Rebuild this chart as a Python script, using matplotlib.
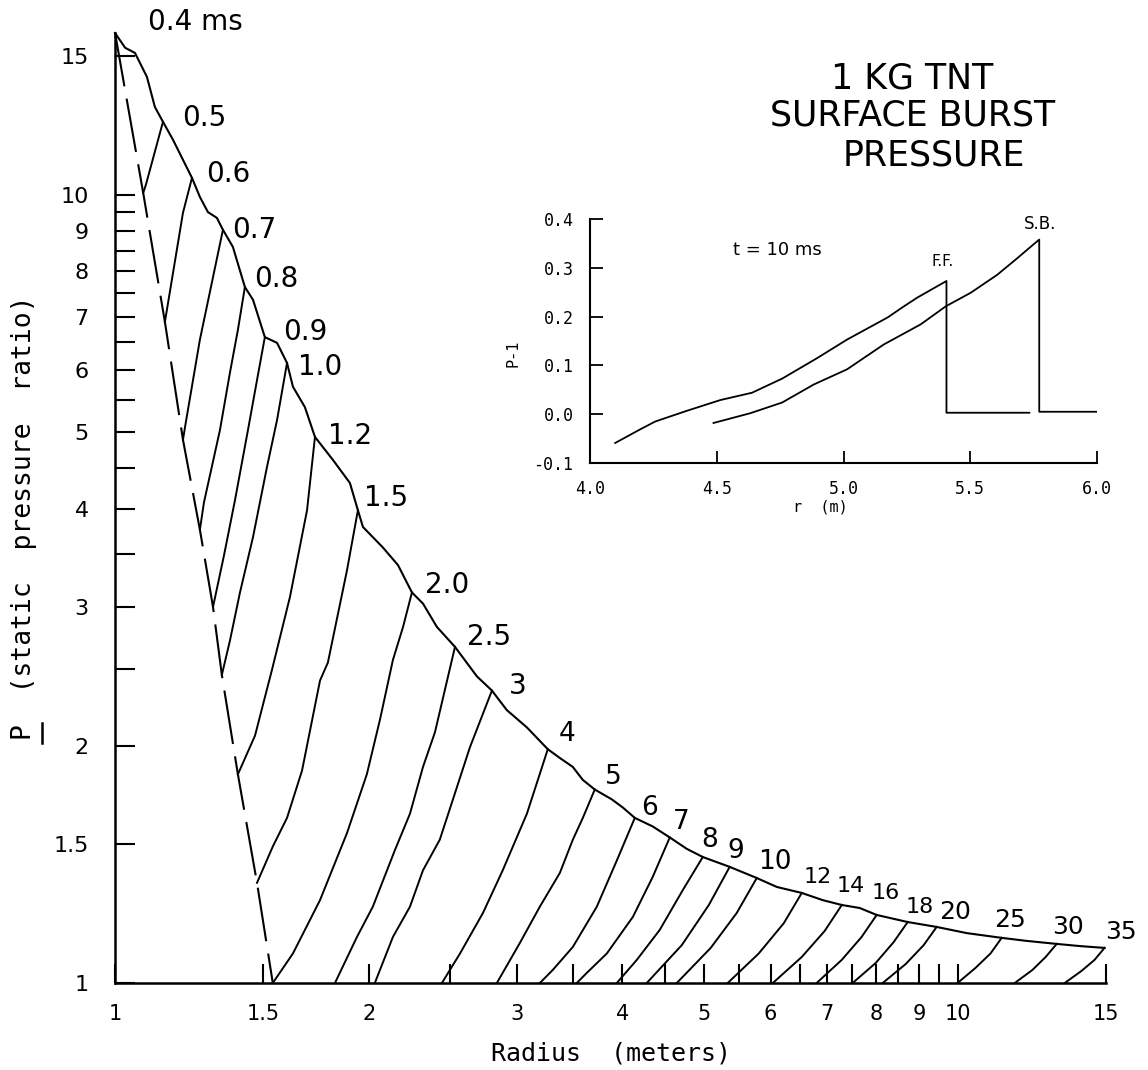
import matplotlib
matplotlib.use("Agg")
import matplotlib.pyplot as plt
from matplotlib.lines import Line2D
from matplotlib.ticker import NullFormatter

# peak overpressure envelope (radius m, P ratio)
env_r = [1.000, 1.028, 1.056, 1.091, 1.115, 1.140, 1.172, 1.204, 1.234, 1.261,
         1.289, 1.321, 1.343, 1.380, 1.426, 1.458, 1.506, 1.557, 1.600, 1.626,
         1.680, 1.727, 1.814, 1.900, 1.942, 1.969, 2.079, 2.167, 2.251, 2.320,
         2.410, 2.532, 2.688, 2.801, 2.917, 3.082, 3.263, 3.372, 3.494, 3.591,
         3.710, 3.887, 4.005, 4.139, 4.346, 4.554, 4.770, 4.984, 5.364, 5.776,
         6.101, 6.532, 6.917, 7.287, 7.653, 8.016, 8.725, 9.443, 10.25, 11.28,
         12.07, 13.11, 13.96, 14.94]
env_p = [16.05, 15.37, 15.14, 14.12, 12.93, 12.38, 11.74, 11.08, 10.51, 9.94,
         9.51, 9.35, 9.03, 8.59, 7.64, 7.36, 6.60, 6.49, 6.12, 5.71,
         5.38, 4.93, 4.61, 4.31, 3.98, 3.79, 3.57, 3.39, 3.13, 3.03,
         2.83, 2.67, 2.45, 2.35, 2.22, 2.11, 1.98, 1.93, 1.88, 1.81,
         1.76, 1.71, 1.67, 1.62, 1.58, 1.53, 1.48, 1.445, 1.404, 1.359,
         1.324, 1.301, 1.274, 1.256, 1.245, 1.220, 1.195, 1.178, 1.157, 1.141,
         1.131, 1.121, 1.114, 1.108]

# dashed inner boundary
dash_r = [1.000, 1.080, 1.146, 1.204, 1.261, 1.307, 1.339, 1.399, 1.474, 1.539]
dash_p = [16.05, 10.06, 6.90, 4.89, 3.76, 3.00, 2.46, 1.84, 1.34, 1.00]

# pressure profiles at fixed times (ms)
times = ["0.5", "0.6", "0.7", "0.8", "0.9", "1.0", "1.2", "1.5", "2.0", "2.5",
         "3", "4", "5", "6", "7", "8", "9", "10", "12", "14", "16", "18", "20",
         "25", "30", "35"]
prof_r = [
    [1.140, 1.088, 1.080],
    [1.234, 1.204, 1.146],
    [1.343, 1.261, 1.211, 1.204],
    [1.426, 1.399, 1.369, 1.332, 1.275, 1.261],
    [1.506, 1.474, 1.438, 1.388, 1.347, 1.307],
    [1.600, 1.557, 1.515, 1.458, 1.407, 1.369, 1.339],
    [1.727, 1.690, 1.613, 1.536, 1.466, 1.399],
    [1.942, 1.885, 1.789, 1.751, 1.667, 1.600, 1.539, 1.474],
    [2.251, 2.197, 2.137, 2.063, 1.990, 1.885, 1.751, 1.626, 1.539],
    [2.532, 2.397, 2.320, 2.239, 2.149, 2.023, 1.937, 1.824],
    [2.801, 2.637, 2.518, 2.429, 2.320, 2.239, 2.137, 2.034],
    [3.263, 3.082, 2.885, 2.733, 2.567, 2.443],
    [3.710, 3.591, 3.494, 3.372, 3.193, 3.023, 2.839],
    [4.139, 3.940, 3.731, 3.494, 3.308, 3.193],
    [4.554, 4.346, 4.117, 3.834, 3.630, 3.532],
    [4.984, 4.719, 4.431, 4.162, 3.940],
    [5.364, 5.067, 4.706, 4.276],
    [5.776, 5.468, 5.093, 4.642],
    [6.532, 6.219, 5.807, 5.335],
    [7.287, 6.953, 6.532, 6.035],
    [8.016, 7.692, 7.287, 6.803],
    [8.725, 8.397, 7.993, 7.506],
    [9.443, 9.114, 8.677, 8.149],
    [11.28, 10.94, 10.50, 10.00],
    [13.11, 12.72, 12.27, 11.69],
    [14.94, 14.54, 14.03, 13.40],
]
prof_p = [
    [12.38, 10.30, 10.06],
    [10.51, 9.49, 6.90],
    [9.03, 6.55, 5.08, 4.89],
    [7.64, 6.74, 5.95, 5.03, 4.07, 3.76],
    [6.60, 5.82, 5.03, 4.10, 3.49, 3.00],
    [6.12, 5.18, 4.52, 3.68, 3.13, 2.72, 2.46],
    [4.93, 3.98, 3.09, 2.50, 2.06, 1.84],
    [3.98, 3.34, 2.55, 2.42, 1.86, 1.62, 1.49, 1.34],
    [3.13, 2.83, 2.57, 2.16, 1.84, 1.55, 1.274, 1.09, 1.00],
    [2.67, 2.08, 1.88, 1.64, 1.475, 1.25, 1.144, 1.00],
    [2.35, 1.99, 1.71, 1.52, 1.39, 1.25, 1.144, 1.00],
    [1.98, 1.64, 1.39, 1.227, 1.09, 1.00],
    [1.76, 1.62, 1.52, 1.379, 1.25, 1.124, 1.00],
    [1.62, 1.43, 1.25, 1.111, 1.039, 1.00],
    [1.53, 1.363, 1.213, 1.09, 1.03, 1.00],
    [1.445, 1.312, 1.168, 1.07, 1.00],
    [1.404, 1.256, 1.117, 1.00],
    [1.359, 1.227, 1.108, 1.00],
    [1.301, 1.191, 1.09, 1.00],
    [1.256, 1.164, 1.079, 1.00],
    [1.220, 1.144, 1.07, 1.00],
    [1.195, 1.127, 1.06, 1.00],
    [1.178, 1.117, 1.057, 1.00],
    [1.141, 1.09, 1.045, 1.00],
    [1.121, 1.079, 1.039, 1.00],
    [1.108, 1.07, 1.036, 1.00],
]

# label offsets (pixels from profile top) and sizes
lab_off = [(41, 4), (36, 4), (31, 0), (31, 8), (40, 5), (33, -4), (35, 1), (28, 12),
           (35, 7), (34, 10), (26, 5), (19, 15), (19, 13), (15, 10), (11, 15),
           (7, 17), (6, 16), (18, 16), (16, 16), (9, 19), (9, 22), (12, 15),
           (18, 15), (8, 18), (11, 17), (16, 16)]
lab_fs = [20] * 11 + [19] * 7 + [16] * 4 + [18] * 4

xmaj = [1, 1.5, 2, 3, 4, 5, 6, 7, 8, 9, 10, 15]
xmaj_lab = ["1", "1.5", "2", "3", "4", "5", "6", "7", "8", "9", "10", "15"]
xmin = [2.5, 3.5, 4.5, 5.5, 6.5, 7.5, 8.5, 9.5]
ymaj = [1, 1.5, 2, 3, 4, 5, 6, 7, 8, 9, 10, 15]
ymaj_lab = ["1", "1.5", "2", "3", "4", "5", "6", "7", "8", "9", "10", "15"]
ymin = [2.5, 3.5, 4.5, 5.5, 6.5, 7.5, 8.5, 9.5]

# inset: t = 10 ms profiles
ff_r = [4.099, 4.198, 4.257, 4.382, 4.514, 4.639, 4.758, 4.896, 5.014, 5.067,
        5.173, 5.238, 5.291, 5.406, 5.406, 5.733]
ff_p = [-0.059, -0.031, -0.015, 0.007, 0.029, 0.044, 0.073, 0.115, 0.153, 0.168,
        0.198, 0.221, 0.239, 0.273, 0.003, 0.003]
sb_r = [4.487, 4.632, 4.758, 4.883, 5.014, 5.159, 5.304, 5.403, 5.502, 5.607,
        5.686, 5.772, 5.772, 6.003]
sb_p = [-0.018, 0.002, 0.024, 0.061, 0.092, 0.143, 0.184, 0.221, 0.249, 0.286,
        0.320, 0.358, 0.005, 0.005]
ins_xt = [4.0, 4.5, 5.0, 5.5, 6.0]
ins_yt = [-0.1, 0.0, 0.1, 0.2, 0.3, 0.4]

mono = "DejaVu Sans Mono"

fig = plt.figure(figsize=(11.48, 10.70), dpi=100)
ax = fig.add_axes([0.1002, 0.0813, 0.8632, 0.8879])
ax.set_xscale("log")
ax.set_yscale("log")

ax.plot(env_r, env_p, color="k", lw=1.5, clip_on=False)
ax.plot(dash_r, dash_p, color="k", lw=1.5, linestyle=(0, (26, 6)), clip_on=False)
for r, p in zip(prof_r, prof_p):
    ax.plot(r, p, color="k", lw=1.4, clip_on=False)

ax.annotate("0.4 ms", (env_r[0], env_p[0]), xytext=(80, 11), textcoords="offset pixels",
            ha="center", va="center", fontsize=20, annotation_clip=False)
for lab, r, p, off, fs in zip(times, prof_r, prof_p, lab_off, lab_fs):
    ax.annotate(lab, (r[0], p[0]), xytext=off, textcoords="offset pixels",
                ha="center", va="center", fontsize=fs, annotation_clip=False)

ax.set_xlim(1, 15)
ax.set_ylim(1, 16.05)
ax.set_xticks(xmaj, labels=xmaj_lab)
ax.set_xticks(xmin, minor=True)
ax.set_yticks(ymaj, labels=ymaj_lab)
ax.set_yticks(ymin, minor=True)
ax.xaxis.set_minor_formatter(NullFormatter())
ax.yaxis.set_minor_formatter(NullFormatter())
ax.tick_params(axis="x", which="both", direction="in", length=14, width=1.5,
               pad=15, labelsize=15)
ax.tick_params(axis="y", which="both", direction="in", length=14.5, width=1.5,
               pad=19, labelsize=16)
for s in ["top", "right"]:
    ax.spines[s].set_visible(False)
for s in ["left", "bottom"]:
    ax.spines[s].set_linewidth(1.8)

ax.set_xlabel("Radius  (meters)", fontsize=18, family=mono)
ax.xaxis.set_label_coords(0.5, -0.062)
ax.set_ylabel("P  (static  pressure  ratio)", fontsize=19, family=mono)
ax.yaxis.set_label_coords(-0.079, 0.49)
# underline bar under the P of the y label
fig.add_artist(Line2D([0.0366, 0.0366], [0.3056, 0.3243], color="k", lw=1.8,
                      transform=fig.transFigure))

fig.text(0.7944, 0.9271, "1 KG TNT", ha="center", va="center", fontsize=25)
fig.text(0.7953, 0.8925, "SURFACE BURST", ha="center", va="center", fontsize=25)
fig.text(0.8136, 0.8551, "PRESSURE", ha="center", va="center", fontsize=25)

# inset
ins = fig.add_axes([0.514, 0.5673, 0.4416, 0.228])
ins.patch.set_alpha(0)
ins.plot(ff_r, ff_p, color="k", lw=1.3)
ins.plot(sb_r, sb_p, color="k", lw=1.3)
ins.set_xlim(4, 6)
ins.set_ylim(-0.1, 0.4)
ins.set_xticks(ins_xt, labels=[f"{v:.1f}" for v in ins_xt])
ins.set_yticks(ins_yt, labels=[f"{v:.1f}" for v in ins_yt])
ins.tick_params(which="both", direction="in", length=9, width=1.3, pad=12,
                labelsize=12, labelfontfamily=mono)
for s in ["top", "right"]:
    ins.spines[s].set_visible(False)
for s in ["left", "bottom"]:
    ins.spines[s].set_linewidth(1.5)
ins.set_xlabel("r  (m)", fontsize=11, family=mono)
ins.xaxis.set_label_coords(0.454, -0.15)
ins.set_ylabel("P-1", fontsize=11, family=mono)
ins.yaxis.set_label_coords(-0.138, 0.45)
ins.text(4.738, 0.3365, "t = 10 ms", ha="center", va="center", fontsize=13)
ins.text(5.392, 0.312, "F.F.", ha="center", va="center", fontsize=11)
ins.text(5.775, 0.390, "S.B.", ha="center", va="center", fontsize=12)

fig.savefig("out.png", dpi=100)
